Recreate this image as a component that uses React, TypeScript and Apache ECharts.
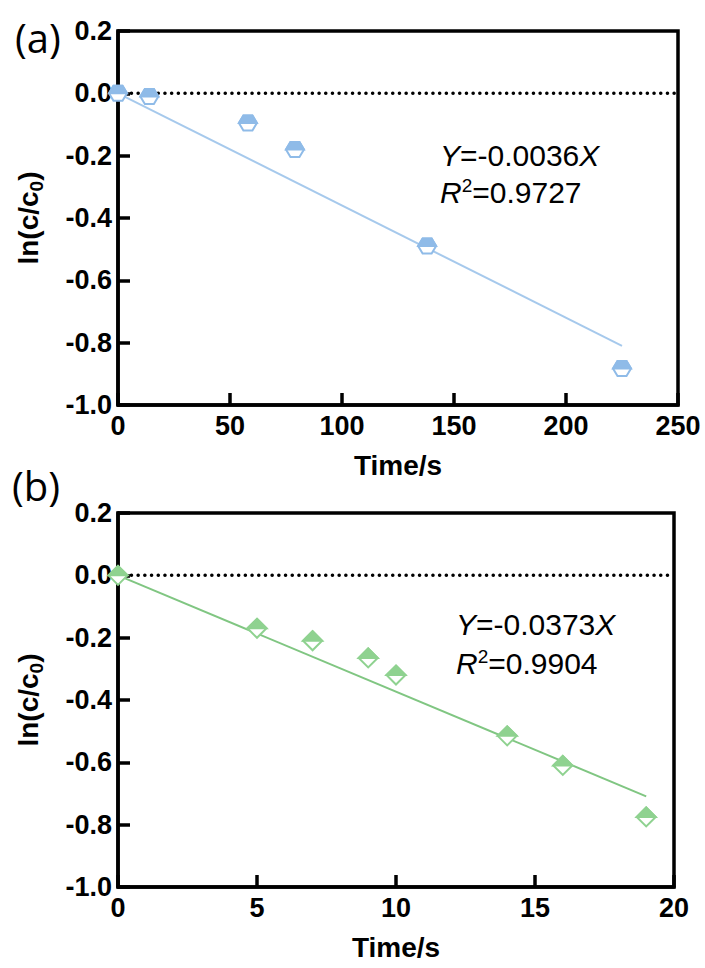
import React, { useEffect, useRef } from 'react';
import * as echarts from 'echarts';

// Panel (a)
const timeA = [0, 14, 58, 79, 138, 225];
const lnA = [0.0, -0.01, -0.095, -0.18, -0.49, -0.883];
const fitAX = [0, 225];
const fitAY = [0, -0.81];
const zeroAX = [0, 250];
// Panel (b)
const timeB = [0, 5, 7, 9, 10, 14, 16, 19];
const lnB = [0.0, -0.17, -0.21, -0.265, -0.32, -0.515, -0.61, -0.775];
const fitBX = [0, 19];
const fitBY = [0, -0.709];
const zeroBX = [0, 20];

const eqA = ['-0.0036', '0.9727'];
const eqB = ['-0.0373', '0.9904'];

const BLUE = '#8fbbe8';
const BLUE_LINE = '#a6c9ec';
const GREEN = '#8fd290';
const GREEN_LINE = '#80c682';

const FONT = 'Liberation Sans, Arial, sans-serif';

const fmtY = (v: number) => (Math.abs(v) < 1e-9 ? '0.0' : v.toFixed(1));

const hexItem = (color: string) => (params: any, api: any) => {
  const [x, y] = api.coord([api.value(0), api.value(1)]);
  const w = 18, h = 15;
  return {
    type: 'group',
    children: [
      {
        type: 'polygon',
        shape: { points: [[x - w / 2, y], [x - w / 4, y - h / 2], [x + w / 4, y - h / 2], [x + w / 2, y], [x + w / 4, y + h / 2], [x - w / 4, y + h / 2]] },
        style: { fill: '#ffffff', stroke: color, lineWidth: 2 },
      },
      {
        type: 'polygon',
        shape: { points: [[x - w / 2, y], [x - w / 4, y - h / 2], [x + w / 4, y - h / 2], [x + w / 2, y]] },
        style: { fill: color, stroke: color, lineWidth: 2 },
      },
    ],
  };
};

const diaItem = (color: string) => (params: any, api: any) => {
  const [x, y] = api.coord([api.value(0), api.value(1)]);
  const w = 19, h = 19;
  return {
    type: 'group',
    children: [
      {
        type: 'polygon',
        shape: { points: [[x, y - h / 2], [x + w / 2, y], [x, y + h / 2], [x - w / 2, y]] },
        style: { fill: '#ffffff', stroke: color, lineWidth: 2 },
      },
      {
        type: 'polygon',
        shape: { points: [[x - w / 2, y], [x, y - h / 2], [x + w / 2, y]] },
        style: { fill: color, stroke: color, lineWidth: 2 },
      },
    ],
  };
};

const yAxisFor = (gridIndex: number) => ({
  type: 'value',
  gridIndex,
  min: -1.0,
  max: 0.2,
  interval: 0.2,
  axisLine: { show: true, onZero: false, lineStyle: { color: '#000', width: 3.5 } },
  axisTick: { show: true, inside: true, length: 12, lineStyle: { color: '#000', width: 3.5 } },
  splitLine: { show: false },
  axisLabel: { color: '#000', fontWeight: 'bold', fontSize: 27, fontFamily: FONT, margin: 6, formatter: fmtY },
  name: '{a|ln(c/c}{s|0}{a|)}',
  nameLocation: 'middle',
  nameRotate: 90,
  nameGap: 74,
  nameTextStyle: {
    rich: {
      a: { fontSize: 28, fontWeight: 'bold', fontFamily: FONT, color: '#000', lineHeight: 30, verticalAlign: 'top' },
      s: { fontSize: 19, fontWeight: 'bold', fontFamily: FONT, color: '#000', lineHeight: 19, padding: [13, 0, 0, 0], verticalAlign: 'top' },
    },
  },
});

const xAxisFor = (gridIndex: number, max: number, interval: number) => ({
  type: 'value',
  gridIndex,
  min: 0,
  max,
  interval,
  axisLine: { show: true, onZero: false, lineStyle: { color: '#000', width: 3.5 } },
  axisTick: { show: true, inside: true, length: 12, lineStyle: { color: '#000', width: 3.5 } },
  splitLine: { show: false },
  axisLabel: { color: '#000', fontWeight: 'bold', fontSize: 27, fontFamily: FONT, margin: 7 },
  name: 'Time/s',
  nameLocation: 'middle',
  nameGap: 46,
  nameTextStyle: { fontSize: 28, fontWeight: 'bold', fontFamily: FONT, color: '#000' },
});

const eqText = (left: number, top: number, gap: number, vals: string[]) => [
  {
    type: 'text',
    left,
    top,
    style: {
      text: `{i|Y}{n|=${vals[0]}}{i|X}`,
      rich: {
        i: { fontSize: 30, fontFamily: FONT, fontStyle: 'italic', fill: '#000', lineHeight: 32 },
        n: { fontSize: 30, fontFamily: FONT, fill: '#000', lineHeight: 32 },
      },
    },
  },
  {
    type: 'text',
    left,
    top: top + gap,
    style: {
      text: `{i|R}{p|2}{n|=${vals[1]}}`,
      rich: {
        i: { fontSize: 30, fontFamily: FONT, fontStyle: 'italic', fill: '#000', lineHeight: 32 },
        p: { fontSize: 19, fontFamily: FONT, fill: '#000', lineHeight: 19, verticalAlign: 'top' },
        n: { fontSize: 30, fontFamily: FONT, fill: '#000', lineHeight: 32 },
      },
    },
  },
];

export default function App() {
  const ref = useRef<HTMLDivElement>(null);
  useEffect(() => {
    if (!ref.current) return;
    const chart = echarts.init(ref.current, undefined, { renderer: 'svg' });
    const dataA = timeA.map((t, i) => [t, lnA[i]]);
    const dataB = timeB.map((t, i) => [t, lnB[i]]);
    const dotted = { color: '#000', width: 3.5, type: [0.1, 6.6], cap: 'round' };
    chart.setOption({
      animation: false,
      backgroundColor: '#ffffff',
      grid: [
        { left: 118, top: 31, width: 560, height: 374, show: true, borderColor: '#000', borderWidth: 3.5 },
        { left: 118, top: 513, width: 556, height: 374, show: true, borderColor: '#000', borderWidth: 3.5 },
      ],
      xAxis: [xAxisFor(0, 250, 50), xAxisFor(1, 20, 5)],
      yAxis: [yAxisFor(0), yAxisFor(1)],
      series: [
        {
          type: 'line', xAxisIndex: 0, yAxisIndex: 0, symbol: 'none', silent: true,
          data: zeroAX.map((x) => [x, 0]), lineStyle: dotted, z: 1,
        },
        {
          type: 'line', xAxisIndex: 0, yAxisIndex: 0, symbol: 'none',
          data: fitAX.map((x, i) => [x, fitAY[i]]), lineStyle: { color: BLUE_LINE, width: 2 }, z: 2,
        },
        {
          type: 'custom', xAxisIndex: 0, yAxisIndex: 0, renderItem: hexItem(BLUE), data: dataA, z: 3,
        },
        {
          type: 'line', xAxisIndex: 1, yAxisIndex: 1, symbol: 'none', silent: true,
          data: zeroBX.map((x) => [x, 0]), lineStyle: dotted, z: 1,
        },
        {
          type: 'line', xAxisIndex: 1, yAxisIndex: 1, symbol: 'none',
          data: fitBX.map((x, i) => [x, fitBY[i]]), lineStyle: { color: GREEN_LINE, width: 2 }, z: 2,
        },
        {
          type: 'custom', xAxisIndex: 1, yAxisIndex: 1, renderItem: diaItem(GREEN), data: dataB, z: 3,
        },
      ],
      graphic: [
        { type: 'text', left: 15, top: 17, style: { text: '(a)', fontSize: 40, fontFamily: 'Open Sans', fill: '#000' } },
        { type: 'text', left: 12, top: 465, style: { text: '(b)', fontSize: 40, fontFamily: 'Open Sans', fill: '#000' } },
        ...eqText(440, 140, 36, eqA),
        ...eqText(456, 609, 38, eqB),
      ],
    });
    return () => chart.dispose();
  }, []);
  return <div ref={ref} style={{ position: 'fixed', left: 0, top: 0, width: 705, height: 968 }} />;
}
